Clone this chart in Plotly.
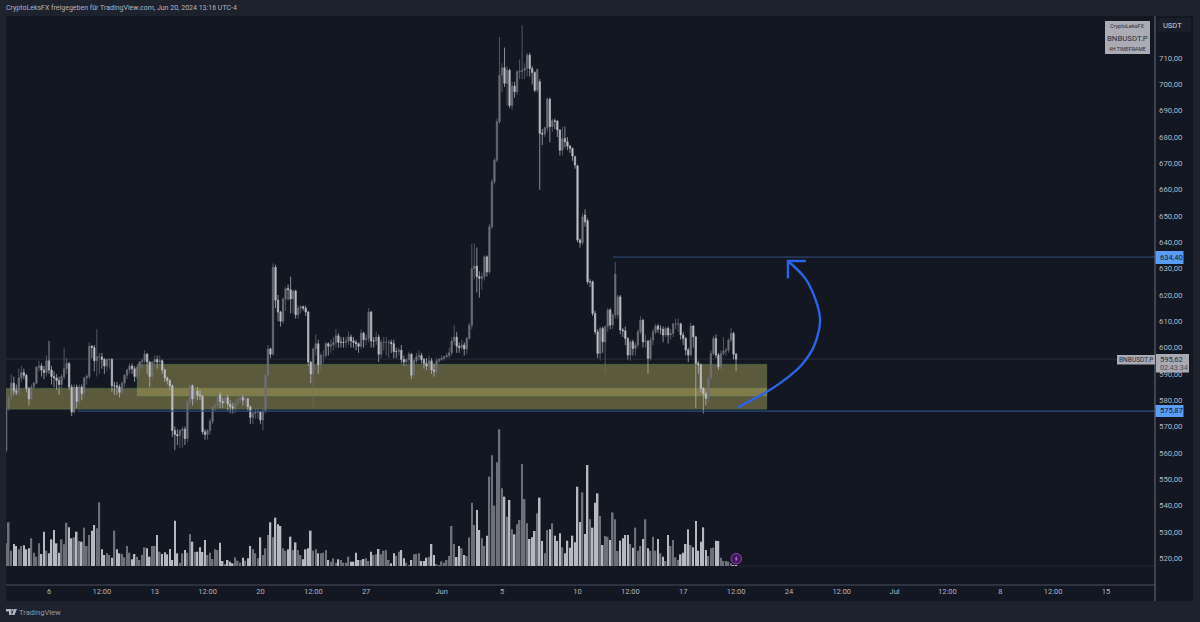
import pandas as pd
import plotly.graph_objects as go

# 4h candles
bar_times = pd.date_range("2024-05-03 04:00", periods=291, freq="4h")

opens = [
    561, 577, 581, 586.5, 583.5, 583, 588.5, 590.5, 589.5, 584.5,
    580.5, 585, 586.5, 592.5, 593, 591.5, 590.5, 595, 591.5, 589,
    588.5, 587.5, 586, 589, 592, 594, 585, 575.5, 585, 579.5,
    585, 582.5, 588.5, 589, 600.5, 600, 595, 596.5, 596.5, 595.5,
    593, 595.5, 595.5, 585.5, 585.5, 585, 583, 586.5, 589.5, 591.5,
    593, 592, 589, 592.5, 594.5, 595, 597.5, 594.5, 589, 594.5,
    595.5, 594.5, 595, 591.5, 588.5, 587.5, 585.5, 568.5, 567, 566.5,
    568.5, 569, 565.5, 579.5, 585.5, 580.5, 583.5, 582, 581.5, 568,
    567, 568.5, 572, 577.5, 578, 582, 579.5, 579, 581, 578.5,
    577.5, 577, 579, 580.5, 581, 580, 580.5, 577.5, 573.5, 575,
    575.5, 575.5, 572.5, 576, 589.5, 599.5, 597.5, 630.5, 618, 613.5,
    610, 618.5, 622.5, 622, 618.5, 621.5, 612.5, 615, 615.5, 615,
    613.5, 594.5, 590, 599.5, 601.5, 593.5, 597, 597, 601.5, 600.5,
    601, 602, 604.5, 602, 602, 602, 602.5, 604, 602.5, 602,
    601.5, 600.5, 605.5, 603, 603.5, 613.5, 602.5, 602.5, 604, 597.5,
    602, 602, 602, 602, 601.5, 598.5, 598.5, 599, 595.5, 594.5,
    595.5, 597.5, 589.5, 595, 596.5, 597, 595.5, 594, 593, 595,
    591.5, 591, 595, 595.5, 596, 596.5, 597, 598, 602.5, 604,
    600.5, 600, 601, 599.5, 603.5, 608.5, 630, 631, 627, 626.3,
    627, 634.5, 628.8, 645.9, 663, 671.2, 685.8, 703.5, 706.3, 700.4,
    705.4, 692, 699.4, 697.2, 704.8, 705, 705.4, 706.1, 711.1, 706,
    704.5, 697.8, 701, 681.4, 681.1, 683.5, 694.4, 684, 686.2, 686,
    682.7, 675, 679.5, 678.2, 676.6, 675.7, 672.5, 669.1, 640.9, 639.8,
    650.4, 648.2, 625, 625, 613, 606, 597.8, 607.3, 602.2, 608,
    614.3, 608.6, 612.4, 612.4, 619.3, 606.7, 606.4, 603.5, 597.2, 602.2,
    599.7, 601, 606, 610.4, 602.2, 602.4, 595.9, 602.9, 606, 608.2,
    607, 607, 604.8, 607.3, 604.8, 605.4, 609, 609, 609, 604.8,
    603.5, 599.1, 597.2, 608.2, 604.1, 594, 593.4, 584.5, 582.6, 580.7,
    588.3, 597.8, 603.5, 597.2, 592.7, 597.8, 598.7, 599, 602.9, 605.4, 597.5,
]
closes = [
    577, 581, 586.5, 583.5, 583, 588.5, 590.5, 589.5, 584.5, 580.5,
    585, 586.5, 592.5, 593, 591.5, 590.5, 595, 591.5, 589, 588.5,
    587.5, 586, 589, 592, 594, 585, 575.5, 585, 579.5, 585,
    582.5, 588.5, 589, 600.5, 600, 595, 596.5, 596.5, 595.5, 593,
    595.5, 595.5, 585.5, 585.5, 585, 583, 586.5, 589.5, 591.5, 593,
    592, 589, 592.5, 594.5, 595, 597.5, 594.5, 589, 594.5, 595.5,
    594.5, 595, 591.5, 588.5, 587.5, 585.5, 568.5, 567, 566.5, 568.5,
    569, 565.5, 579.5, 585.5, 580.5, 583.5, 582, 581.5, 568, 567,
    568.5, 572, 577.5, 578, 582, 579.5, 579, 581, 578.5, 577.5,
    577, 579, 580.5, 581, 580, 580.5, 577.5, 573.5, 575, 575.5,
    575.5, 572.5, 576, 589.5, 599.5, 597.5, 630.5, 618, 613.5, 610,
    618.5, 622.5, 622, 618.5, 621.5, 612.5, 615, 615.5, 615, 613.5,
    594.5, 590, 599.5, 601.5, 593.5, 597, 597, 601.5, 600.5, 601,
    602, 604.5, 602, 602, 602, 602.5, 604, 602.5, 602, 601.5,
    600.5, 605.5, 603, 603.5, 613.5, 602.5, 602.5, 604, 597.5, 602,
    602, 602, 602, 601.5, 598.5, 598.5, 599, 595.5, 594.5, 595.5,
    597.5, 589.5, 595, 596.5, 597, 595.5, 594, 593, 595, 591.5,
    591, 595, 595.5, 596, 596.5, 597, 598, 602.5, 604, 600.5,
    600, 601, 599.5, 603.5, 608.5, 630, 631, 627, 626.3, 627,
    634.5, 628.8, 645.9, 663, 671.2, 685.8, 703.5, 706.3, 700.4, 705.4,
    692, 699.4, 697.2, 704.8, 705, 705.4, 706.1, 711.1, 706, 704.5,
    697.8, 705.7, 681.4, 681.1, 683.5, 694.4, 684, 686.2, 686, 682.7,
    675, 679.5, 678.2, 676.6, 675.7, 672.8, 669.4, 640.9, 639.8, 649.7,
    647.8, 625, 625, 613, 606, 597.8, 607.3, 602.2, 607.9, 614.3,
    608.6, 612.4, 627.9, 619.3, 606.7, 606.4, 603.5, 597.2, 602.2, 599.7,
    601, 606, 610.4, 602.2, 602.4, 595.9, 602.9, 606, 608.2, 607,
    607, 604.8, 607.3, 604.8, 605.4, 609, 609, 609, 604.8, 603.5,
    599.1, 597.2, 608.2, 604.1, 594, 593.4, 584.5, 582.6, 580.7, 588.3,
    597.8, 603.5, 597.2, 592.7, 597.8, 598.7, 599, 602.9, 605.4, 597.5, 595.62,
]
highs = [
    578, 582, 590, 589, 586, 592, 593, 592, 590, 585,
    586, 587, 593, 595, 594, 593, 597, 602.5, 593, 591,
    590, 589, 590, 600, 596, 594.5, 586, 586, 586, 586,
    586, 589, 590, 602, 601, 601, 607, 598, 598, 596,
    596, 596, 596, 587, 587, 586, 587, 590, 592, 594,
    594, 593, 593, 595, 596, 599, 598, 595, 595, 597,
    597, 597, 595.5, 592, 589, 588, 586, 570, 569, 569,
    570, 570, 580, 586, 586, 584, 585, 584, 582, 569,
    569, 573, 578, 579, 583, 583, 581, 582, 582, 580,
    579, 580, 581, 582, 582, 582, 581, 578, 576, 577,
    577, 576, 577, 590, 601, 600, 632, 631.5, 620, 614,
    619, 623, 624, 627, 622, 622, 616, 616, 616, 616,
    614, 595, 600, 605, 603, 598, 599, 602, 602, 603,
    604, 607, 605.5, 604, 604, 604, 606, 605, 604, 603,
    602, 607, 606, 605, 615, 614, 604, 606, 605, 603,
    604, 604, 603, 603, 603, 600, 600, 601, 597, 596,
    598.5, 598, 596, 598, 599, 598, 596, 596, 597, 596,
    594, 596, 596, 597, 597, 598, 600, 604, 608.5, 606,
    602, 603, 602, 604, 609.5, 639.5, 639.5, 638, 629, 628.5,
    635, 635, 647, 664, 672, 687, 718, 708, 714, 707,
    706, 701, 701, 705.5, 709.5, 722.5, 708, 712, 712, 707,
    705, 706, 702, 683, 684, 695, 695, 687, 687, 686.5,
    683, 684, 684, 680, 677, 676, 673, 669.5, 641.5, 651,
    652.5, 649, 626, 625.5, 614, 607, 608, 608, 608.5, 615,
    615, 613, 632.5, 620, 620, 607.5, 608, 604, 603, 603,
    602, 607, 612, 611, 605, 603, 604, 607, 609, 609,
    608.5, 608, 608, 608, 607, 609.5, 611, 611, 609.5, 606,
    604, 600, 609.5, 608.5, 604.5, 595, 594, 585, 583, 589,
    599, 604.5, 605, 598, 599, 604, 600, 603.5, 607.5, 606, 598,
]
lows = [
    560, 576, 580, 582, 582, 582, 587, 588, 583, 578,
    580, 584, 586, 591, 589, 588, 589, 590, 586, 585,
    584, 582, 584, 588, 590, 584, 574, 575, 577, 578,
    580, 581, 586, 588, 596, 591, 589, 590, 592, 590,
    591, 592, 583, 582, 582, 581, 582, 585, 588, 590,
    590, 587, 588, 590, 592, 594, 590, 585, 588, 593,
    592, 593, 590, 587, 586, 584, 566, 561, 563, 562,
    562, 563, 564, 578, 578, 579, 580, 580, 567, 565,
    565, 567, 571, 576, 577, 577, 577, 577, 576, 575,
    575, 575, 578, 579, 578, 578, 576, 571, 571, 573,
    573, 571, 568.5, 575, 589, 596, 597, 615, 610, 608,
    609, 614, 618, 613, 613, 611, 611, 613, 614, 612,
    593, 586.5, 577.5, 597, 590, 591, 594, 596, 597, 598,
    599, 600, 600, 600, 600, 600, 601, 600, 600, 599,
    598, 599.5, 600, 601, 602, 600, 600, 601, 594.5, 596,
    599, 597, 596, 598, 596, 596, 597, 594, 593, 593,
    594, 588, 588.5, 594, 595, 594, 592, 591.5, 592, 590,
    589, 590, 594, 595, 595, 596, 596, 597, 601, 598,
    598, 599, 597, 597.5, 603, 607, 626, 621, 619, 622,
    625.5, 627, 628, 645, 662, 670.5, 685, 697, 699, 692,
    691, 690.5, 695, 696, 702, 702, 702, 703, 703, 700,
    697, 697, 660, 677, 680, 682, 678, 682, 683, 680,
    673, 673, 676, 675, 674, 671, 668, 640, 638, 639,
    646, 624, 623, 612, 605, 596, 595, 598, 590, 606,
    607, 607, 611, 611, 605, 604, 601, 595.5, 595, 597,
    597, 600, 605, 600, 600, 590, 595, 601, 605, 605.5,
    605, 602, 604, 601.5, 603, 604, 607, 606, 603, 601,
    597, 594.5, 596.5, 600, 577, 590, 583, 575, 578, 579,
    588, 597, 596, 591.5, 591.5, 597, 597, 598, 602, 595.5, 591,
]
volumes = [
    68, 131, 46, 66, 60, 50, 60, 62, 50, 53,
    83, 40, 28, 68, 36, 103, 46, 38, 80, 108,
    68, 40, 80, 65, 130, 116, 83, 86, 103, 75,
    73, 115, 60, 93, 106, 123, 113, 191, 50, 33,
    38, 33, 25, 106, 50, 38, 36, 26, 60, 40,
    20, 36, 28, 18, 33, 56, 53, 28, 60, 60,
    93, 43, 36, 41, 35, 51, 18, 136, 38, 10,
    38, 48, 40, 96, 73, 42, 43, 56, 42, 78,
    33, 40, 21, 50, 48, 70, 15, 6, 18, 13,
    8, 26, 16, 10, 25, 16, 23, 60, 50, 38,
    23, 86, 33, 53, 93, 131, 86, 145, 125, 120,
    53, 46, 50, 88, 48, 71, 48, 33, 20, 50,
    53, 106, 46, 50, 38, 38, 40, 48, 18, 13,
    23, 10, 20, 18, 10, 10, 28, 13, 13, 40,
    18, 18, 21, 23, 15, 43, 33, 35, 51, 35,
    46, 48, 18, 8, 38, 31, 43, 48, 23, 10,
    3, 18, 35, 36, 38, 15, 15, 25, 28, 66,
    33, 6, 1, 14, 10, 18, 30, 120, 66, 27,
    60, 53, 33, 30, 86, 190, 123, 168, 108, 83,
    60, 91, 268, 332, 181, 311, 410, 233, 208, 148,
    198, 110, 95, 125, 138, 306, 201, 128, 81, 86,
    105, 158, 205, 75, 38, 108, 110, 128, 91, 75,
    98, 56, 38, 76, 55, 91, 71, 238, 132, 221,
    96, 303, 140, 115, 190, 218, 150, 63, 90, 88,
    78, 161, 140, 45, 76, 83, 93, 93, 66, 55,
    115, 46, 60, 81, 140, 53, 46, 88, 46, 81,
    38, 28, 15, 93, 60, 78, 26, 18, 35, 40,
    66, 110, 63, 56, 135, 46, 73, 116, 48, 30,
    53, 55, 76, 75, 25, 15, 15, 13, 8, 3, 3,
]

# yellow zones
zone_start = ["2024-05-03 03:38", "2024-05-11 20:00"]
zone_end = ["2024-06-22 13:00", "2024-06-22 13:00"]
zone_top = [584.6, 593.7]
zone_bottom = [576.6, 581.6]

# horizontal levels
target_price = 634.40
target_start = "2024-06-12 08:24"
support_price = 575.87
support_start = "2024-05-07 22:00"
last_price = 595.62

# hand drawn blue arrow
arrow_x = ["2024-06-20 15:00", "2024-06-22 13:00", "2024-06-23 10:00", "2024-06-24 06:30", "2024-06-24 22:30",
           "2024-06-25 14:30", "2024-06-25 23:50", "2024-06-26 01:30", "2024-06-25 17:30", "2024-06-25 01:40",
           "2024-06-23 22:30"]
arrow_y = [577.3, 583.2, 586.5, 590.3, 594.1, 599.8, 606.7, 611.2, 618.8, 626.4, 632.9]
head_x = ["2024-06-25 03:00", "2024-06-23 22:30", "2024-06-23 22:30"]
head_y = [632.9, 632.9, 626.4]

price_ticks = [710, 700, 690, 680, 670, 660, 650, 640, 630, 620, 610, 600, 590, 580, 570, 560, 550, 540, 530, 520]
time_ticks = ["2024-05-06", "2024-05-09 12:00", "2024-05-13", "2024-05-16 12:00", "2024-05-20", "2024-05-23 12:00",
              "2024-05-27", "2024-06-01", "2024-06-05", "2024-06-10", "2024-06-13 12:00", "2024-06-17",
              "2024-06-20 12:00", "2024-06-24", "2024-06-27 12:00", "2024-07-01", "2024-07-04 12:00",
              "2024-07-08", "2024-07-11 12:00", "2024-07-15"]
time_labels = ["6", "12:00", "13", "12:00", "20", "12:00", "27", "Jun", "5", "10", "12:00", "17", "12:00", "24",
               "12:00", "Jul", "12:00", "8", "12:00", "15"]

BG = "#131722"
PANEL = "#1e222d"
LIGHT = "#bcbdc4"
DARK = "#6e7079"
TEXT = "#b2b5be"
FONT = "Roboto"


def px(x):
    return x / 1200


def py(y):
    return 1 - y / 622


def rect(x0, y0, x1, y1, color, layer="above"):
    return dict(type="rect", xref="paper", yref="paper", x0=px(x0), x1=px(x1), y0=py(y0), y1=py(y1),
                fillcolor=color, line_width=0, layer=layer)


def label(x, y, text, size=7.5, color=TEXT, anchor="left"):
    # annotations keep about 2px of padding on the left
    if anchor == "left":
        x = x - 2
    return dict(xref="paper", yref="paper", x=px(x), y=py(y), text=text, showarrow=False, xanchor=anchor,
                yanchor="middle", font=dict(family=FONT, size=size, color=color))


vol_colors = [DARK if c >= o else "#b8b9c0" for o, c in zip(opens, closes)]

fig = go.Figure()
fig.add_trace(go.Bar(x=bar_times, y=volumes, yaxis="y2", width=4 * 3600 * 1000 * 0.62,
                     marker=dict(color=vol_colors, line_width=0), hoverinfo="skip"))
fig.add_trace(go.Candlestick(x=bar_times, open=opens, high=highs, low=lows, close=closes, whiskerwidth=0,
                             increasing=dict(line=dict(color=DARK, width=0.7), fillcolor=DARK),
                             decreasing=dict(line=dict(color=LIGHT, width=0.7), fillcolor=LIGHT),
                             hoverinfo="skip"))
fig.add_trace(go.Scatter(x=arrow_x, y=arrow_y, mode="lines",
                         line=dict(color="#2b63ea", width=2.4, shape="spline", smoothing=1), hoverinfo="skip"))
fig.add_trace(go.Scatter(x=head_x, y=head_y, mode="lines", line=dict(color="#2b63ea", width=2.4), hoverinfo="skip"))

shapes = [
    # panels
    rect(6, 585, 1155, 601, BG, "below"),
    rect(1155, 16, 1193, 601, BG, "below"),
]
for x0, x1, top, bottom in zip(zone_start, zone_end, zone_top, zone_bottom):
    shapes.append(dict(type="rect", xref="x", yref="y", x0=x0, x1=x1, y0=bottom, y1=top, layer="below",
                       fillcolor="rgba(163,158,88,0.5)", line=dict(color="rgba(90,170,100,0.3)", width=0.8)))
shapes += [
    dict(type="line", xref="x", yref="y", x0=target_start, x1="2024-07-18 05:53", y0=target_price, y1=target_price,
         line=dict(color="#35517f", width=1)),
    dict(type="line", xref="x", yref="y", x0=support_start, x1="2024-07-18 05:53", y0=support_price, y1=support_price,
         line=dict(color="#2f4e7c", width=1.2)),
    dict(type="line", xref="x", yref="y", x0="2024-05-03 03:38", x1="2024-07-18 05:53", y0=last_price, y1=last_price,
         line=dict(color="rgba(130,130,140,0.3)", width=0.7), layer="below"),
    dict(type="line", xref="x", yref="y2", x0="2024-06-20 12:00", x1="2024-07-18 05:53", y0=0, y1=0,
         line=dict(color="rgba(180,180,190,0.15)", width=0.7), layer="below"),
    # axis borders
    dict(type="line", xref="paper", yref="paper", x0=px(6), x1=px(1155), y0=py(585), y1=py(585),
         line=dict(color="#4a4e5b", width=1)),
    dict(type="line", xref="paper", yref="paper", x0=px(1155), x1=px(1155), y0=py(16), y1=py(601),
         line=dict(color="#6d707c", width=1)),
    # watermark and price tags
    rect(1105, 21, 1150, 54, "#aaabb3"),
    rect(1158, 18, 1191, 32, "#1a1e29"),
    rect(1155.5, 251, 1183.5, 264, "#5b9cf6"),
    rect(1155.5, 405, 1183.5, 417, "#5b9cf6"),
    rect(1117, 355, 1155, 364.5, "#a9aab2"),
    rect(1156, 354, 1189, 372.5, "#a9aab2"),
    # purple badge
    dict(type="circle", xref="paper", yref="paper", x0=px(731), x1=px(741.5), y0=py(564), y1=py(553.5),
         fillcolor="#3d1a57", line=dict(color="#9c3fc0", width=1)),
    dict(type="path", xref="paper", yref="paper", fillcolor="#b06ad0", line_width=0,
         path=f"M {px(737)} {py(555.5)} L {px(734.5)} {py(559.3)} L {px(736)} {py(559.3)} L {px(735.5)} {py(562)} "
              f"L {px(738)} {py(558.2)} L {px(736.5)} {py(558.2)} Z"),
    # TradingView logo
    dict(type="path", xref="paper", yref="paper", fillcolor=TEXT, line_width=0,
         path=f"M {px(6)} {py(609)} L {px(11.5)} {py(609)} L {px(11.5)} {py(615)} L {px(9)} {py(615)} "
              f"L {px(9)} {py(611.5)} L {px(6)} {py(611.5)} Z"),
    dict(type="path", xref="paper", yref="paper", fillcolor=TEXT, line_width=0,
         path=f"M {px(14)} {py(609)} L {px(17)} {py(609)} L {px(14.5)} {py(615)} L {px(11.8)} {py(615)} Z"),
    dict(type="circle", xref="paper", yref="paper", fillcolor=TEXT, line_width=0,
         x0=px(11.6), x1=px(13.6), y0=py(611), y1=py(609)),
]

annotations = [
    label(6, 8, "CryptoLeksFX freigegeben für TradingView.com, Jun 20, 2024 13:16 UTC-4", size=7),
    label(19, 612, "TradingView", size=7.6, color="#9598a1"),
    label(1127.5, 26.5, "CryptoLeksFX", size=5.5, color="#2a2e39", anchor="center"),
    label(1127.5, 38, "BNBUSDT.P", size=7.8, color="#2a2e39", anchor="center"),
    label(1127.5, 49, "4H TIMEFRAME", size=5.2, color="#2a2e39", anchor="center"),
    label(1163, 25, "USDT", size=7.5, color="#d1d4dc"),
    label(1160, 257.5, "634,40", size=7.6, color="#131722"),
    label(1160, 411, "575,87", size=7.6, color="#131722"),
    label(1119, 359.5, "BNBUSDT.P", size=6.6, color="#2a2e39"),
    label(1160, 359.5, "595,62", size=7.6, color="#2a2e39"),
    label(1160, 367.5, "02:43:34", size=7.2, color="#4a4e5b"),
]

fig.update_layout(
    width=1200,
    height=622,
    margin=dict(l=0, r=0, t=0, b=0),
    paper_bgcolor=PANEL,
    plot_bgcolor=BG,
    showlegend=False,
    boxgap=0.22,
    shapes=shapes,
    annotations=annotations,
    xaxis=dict(
        domain=[px(6), px(1155)],
        type="date",
        range=["2024-05-03 03:38", "2024-07-18 05:53"],
        rangeslider=dict(visible=False),
        showgrid=False,
        zeroline=False,
        showline=False,
        tickmode="array",
        tickvals=time_ticks,
        ticktext=time_labels,
        ticklen=3,
        tickcolor="rgba(0,0,0,0)",
        tickfont=dict(family=FONT, size=7.5, color=TEXT),
    ),
    yaxis=dict(
        domain=[py(585), py(16)],
        range=[509.8, 726],
        side="right",
        showgrid=False,
        zeroline=False,
        showline=False,
        tickmode="array",
        tickvals=price_ticks,
        ticktext=[f"{t},00" for t in price_ticks],
        ticklen=0,
        ticklabelstandoff=3,
        tickfont=dict(family=FONT, size=7.8, color=TEXT),
    ),
    yaxis2=dict(
        domain=[py(585), py(16)],
        range=[-57, 1650],
        overlaying="y",
        side="left",
        visible=False,
    ),
)

fig.write_html("out.html", config={"displayModeBar": False},
               post_script="document.body.style.margin='0';document.body.style.overflow='hidden';")
